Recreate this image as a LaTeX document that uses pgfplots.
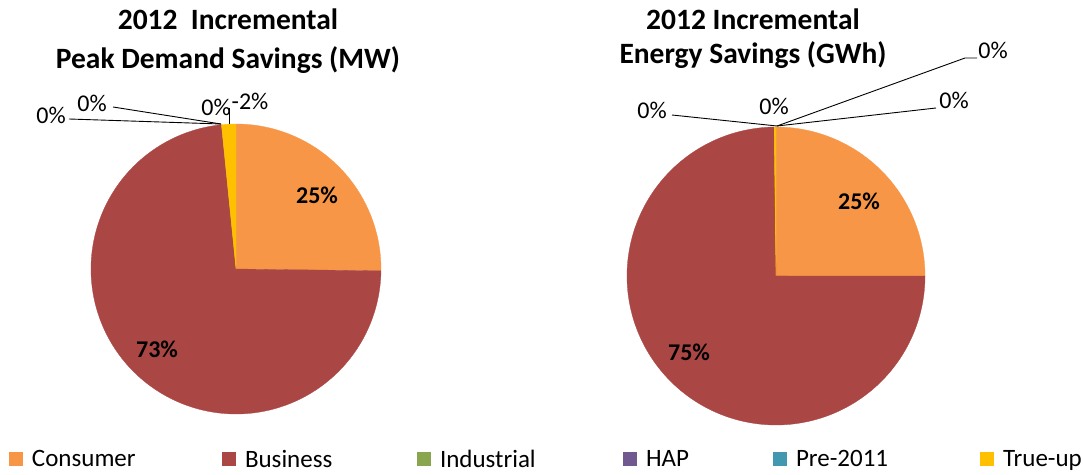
\documentclass[border=0pt]{standalone}
\usepackage{fontspec}
\setmainfont{Carlito}
\usepackage{pgfplots}
\pgfplotsset{compat=1.18}
\definecolor{cons}{HTML}{F79646}
\definecolor{busi}{HTML}{AA4643}
\definecolor{indu}{HTML}{89A54E}
\definecolor{hap}{HTML}{71588F}
\definecolor{pre}{HTML}{4198AF}
\definecolor{trueup}{HTML}{FFC000}
% slice shares (percent of drawn pie)
\def\LCons{25.2}\def\LBus{73.2}\def\LTrue{1.6}
\def\RCons{25.0}\def\RBus{74.8}\def\RTrue{0.2}
\pgfmathsetmacro\La{90-3.6*\LCons}
\pgfmathsetmacro\Lb{\La-3.6*\LBus}
\pgfmathsetmacro\Lc{\Lb-3.6*\LTrue}
\pgfmathsetmacro\Ra{90-3.6*\RCons}
\pgfmathsetmacro\Rb{\Ra-3.6*\RBus}
\pgfmathsetmacro\Rc{\Rb-3.6*\RTrue}
\pgfplotsset{sqleg/.style={area legend, fill=#1, draw=none,
  legend image code/.code={\fill (0pt,-7pt) rectangle (14pt,7pt); \path (23pt,0pt);}}}
\begin{document}
\begin{tikzpicture}
\begin{axis}[scale only axis, width=1083pt, height=474pt,
  xmin=0, xmax=1083, ymin=-474, ymax=0, hide axis, clip=false,
  legend columns=6,
  legend style={at={(axis cs:9,-450)}, anchor=north west, draw=none, fill=none,
    column sep=0pt, inner sep=0pt, outer sep=0pt, font=\fontsize{25}{30}\selectfont,
    nodes={inner sep=0pt, outer sep=0pt}},
  legend cell align=left]
\addlegendimage{sqleg=cons}\addlegendentry{\makebox[190pt][l]{Consumer}}
\addlegendimage{sqleg=busi}\addlegendentry{\makebox[172pt][l]{Business}}
\addlegendimage{sqleg=indu}\addlegendentry{\makebox[183pt][l]{Industrial}}
\addlegendimage{sqleg=hap}\addlegendentry{\makebox[127pt][l]{HAP}}
\addlegendimage{sqleg=pre}\addlegendentry{\makebox[184pt][l]{Pre-2011}}
\addlegendimage{sqleg=trueup}\addlegendentry{True-up}
\path (axis cs:0,-474) rectangle (axis cs:1083,0);
% left pie: centre (236,-269), r=145
\addplot[forget plot, fill=cons, draw=cons, line width=0.3pt, domain=\La:90, samples=80, variable=\t]
  ({236+145*cos(\t)},{-269+145*sin(\t)}) -- (axis cs:236,-269) -- cycle;
\addplot[forget plot, fill=busi, draw=busi, line width=0.3pt, domain=\Lb:\La, samples=200, variable=\t]
  ({236+145*cos(\t)},{-269+145*sin(\t)}) -- (axis cs:236,-269) -- cycle;
\addplot[forget plot, fill=trueup, draw=trueup, line width=0.3pt, domain=\Lc:\Lb, samples=10, variable=\t]
  ({236+145*cos(\t)},{-269+145*sin(\t)}) -- (axis cs:236,-269) -- cycle;
% right pie: centre (776,-276), r=149
\addplot[forget plot, fill=cons, draw=cons, line width=0.3pt, domain=\Ra:90, samples=80, variable=\t]
  ({776+149*cos(\t)},{-276+149*sin(\t)}) -- (axis cs:776,-276) -- cycle;
\addplot[forget plot, fill=busi, draw=busi, line width=0.3pt, domain=\Rb:\Ra, samples=200, variable=\t]
  ({776+149*cos(\t)},{-276+149*sin(\t)}) -- (axis cs:776,-276) -- cycle;
\addplot[forget plot, fill=trueup, draw=trueup, line width=0.3pt, domain=\Rc:\Rb, samples=5, variable=\t]
  ({776+149*cos(\t)},{-276+149*sin(\t)}) -- (axis cs:776,-276) -- cycle;
% leader lines
\addplot[forget plot, black, line width=0.9pt] coordinates {(221,-124) (69,-119)};
\addplot[forget plot, black, line width=0.9pt] coordinates {(221,-124) (113,-107)};
\addplot[forget plot, black, line width=0.9pt] coordinates {(229,-124) (229,-108)};
\addplot[forget plot, black, line width=0.9pt] coordinates {(777,-126) (672,-115)};
\addplot[forget plot, black, line width=0.9pt] coordinates {(777,-126) (936,-108)};
\addplot[forget plot, black, line width=0.9pt] coordinates {(777,-126) (965,-58) (977,-58)};
% titles
\node[anchor=base, font=\fontsize{29.5}{35}\selectfont\bfseries] at (axis cs:228,-30) {2012\ \ Incremental};
\node[anchor=base, font=\fontsize{29.5}{35}\selectfont\bfseries] at (axis cs:228,-69) {Peak Demand Savings (MW)};
\node[anchor=base, font=\fontsize{29.5}{35}\selectfont\bfseries] at (axis cs:753,-30) {2012 Incremental};
\node[anchor=base, font=\fontsize{29.5}{35}\selectfont\bfseries] at (axis cs:753,-64) {Energy Savings (GWh)};
% slice labels
\node[font=\fontsize{24}{28}\selectfont\bfseries] at (axis cs:317,-195) {25\%};
\node[font=\fontsize{24}{28}\selectfont\bfseries] at (axis cs:157,-349) {73\%};
\node[font=\fontsize{24}{28}\selectfont\bfseries] at (axis cs:859,-201) {25\%};
\node[font=\fontsize{24}{28}\selectfont\bfseries] at (axis cs:689,-352) {75\%};
% leader labels
\node[font=\fontsize{24}{28}\selectfont] at (axis cs:51,-115) {0\%};
\node[font=\fontsize{24}{28}\selectfont] at (axis cs:92,-103) {0\%};
\node[font=\fontsize{24}{28}\selectfont] at (axis cs:216,-107) {0\%};
\node[font=\fontsize{24}{28}\selectfont] at (axis cs:250,-101) {-2\%};
\node[font=\fontsize{24}{28}\selectfont] at (axis cs:652,-110) {0\%};
\node[font=\fontsize{24}{28}\selectfont] at (axis cs:774,-106) {0\%};
\node[font=\fontsize{24}{28}\selectfont] at (axis cs:954,-100) {0\%};
\node[font=\fontsize{24}{28}\selectfont] at (axis cs:993,-50) {0\%};
\end{axis}
\end{tikzpicture}
\end{document}
